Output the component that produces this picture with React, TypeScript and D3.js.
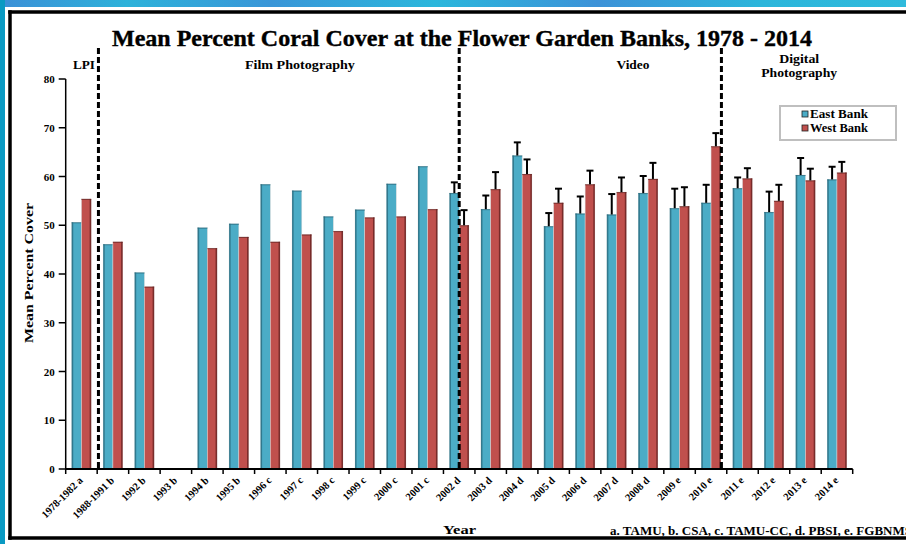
import React from "react";
import * as d3 from "d3";

// Survey periods and the two bank series (mean percent coral cover)
const categories = [
  "1978-1982 a", "1988-1991 b", "1992 b", "1993 b", "1994 b", "1995 b",
  "1996 c", "1997 c", "1998 c", "1999 c", "2000 c", "2001 c", "2002 d",
  "2003 d", "2004 d", "2005 d", "2006 d", "2007 d", "2008 d", "2009 e",
  "2010 e", "2011 e", "2012 e", "2013 e", "2014 e",
];

const eastBank: (number | null)[] = [
  50.6, 46.1, 40.3, null, 49.5, 50.3, 58.4, 57.1, 51.8, 53.2, 58.5, 62.1, 56.6,
  53.3, 64.3, 49.8, 52.4, 52.2, 56.6, 53.5, 54.6, 57.6, 52.7, 60.3, 59.4,
];
const westBank: (number | null)[] = [
  55.4, 46.6, 37.4, null, 45.3, 47.6, 46.6, 48.1, 48.8, 51.6, 51.8, 53.3, 50.0,
  57.4, 60.5, 54.6, 58.4, 56.8, 59.5, 53.9, 66.2, 59.6, 55.0, 59.2, 60.8,
];
// Upper standard-error bars (video and digital years only)
const eastErr: (number | null)[] = [
  null, null, null, null, null, null, null, null, null, null, null, null, 2.2,
  2.8, 2.7, 2.7, 3.5, 4.2, 3.5, 4.0, 3.7, 2.2, 4.2, 3.5, 2.6,
];
const westErr: (number | null)[] = [
  null, null, null, null, null, null, null, null, null, null, null, null, 3.1,
  3.5, 3.0, 2.9, 2.8, 3.0, 3.3, 3.9, 2.7, 2.1, 3.3, 2.4, 2.2,
];

const yTicks = [0, 10, 20, 30, 40, 50, 60, 70, 80];

// Method dividers and section headings, in category units from the axis start
const dividers = [1.04, 12.5, 20.83];
const sections = [
  { lines: ["LPI"], widths: [22], at: 0.58 },
  { lines: ["Film Photography"], widths: [110], at: 7.44 },
  { lines: ["Video"], widths: [33], at: 18.02 },
  { lines: ["Digital", "Photography"], widths: [40, 76], at: 23.3 },
];

const seriesNames = ["East Bank", "West Bank"];
const seriesColors = ["#4bacc6", "#c0504d"];
const seriesEdges = ["#2b6f82", "#6b2523"];

const FONT = "'Liberation Serif', 'Times New Roman', serif";

export default function App() {
  const W = 906;
  const H = 544;
  const x0 = 65.7;
  const x1 = 852.7;
  const yBase = 469;
  const yTop = 79;

  const x = d3.scaleBand<string>().domain(categories).range([x0, x1]).padding(0);
  const band = x.bandwidth();
  const inner = d3
    .scaleBand<string>()
    .domain(seriesNames)
    .range([0, band])
    .paddingInner(0)
    .paddingOuter(0.62);
  const bw = inner.bandwidth();
  const y = d3.scaleLinear().domain([0, 80]).range([yBase, yTop]);
  const unit = d3.scaleLinear().domain([0, categories.length]).range([x0, x1]);

  const series = [eastBank, westBank];
  const errs = [eastErr, westErr];

  return (
    <svg
      width={W}
      height={H}
      style={{ position: "absolute", left: 0, top: 0, display: "block", overflow: "hidden" }}
      fontFamily={FONT}
    >
      <defs>
        <linearGradient id="topband" x1="0" x2="1" y1="0" y2="0">
          <stop offset="0" stopColor="#3c8fd7" />
          <stop offset="0.14" stopColor="#2db2da" />
          <stop offset="0.3" stopColor="#3a96d8" />
          <stop offset="0.48" stopColor="#2bb7dc" />
          <stop offset="0.66" stopColor="#3d92d8" />
          <stop offset="0.84" stopColor="#2cb6db" />
          <stop offset="1" stopColor="#2fbadc" />
        </linearGradient>
      </defs>
      <rect x={0} y={0} width={W} height={H} fill="#ffffff" />
      <rect x={0} y={0} width={W} height={7} fill="url(#topband)" />
      <rect x={0} y={0} width={5} height={H} fill="#0a9ac3" />
      {/* Slide frame: top, left and bottom edges (right edge lies off the page) */}
      <g stroke="#000" strokeWidth={3.5} fill="none">
        <line x1={8.25} x2={W} y1={12} y2={12} />
        <line x1={10} x2={10} y1={10.25} y2={539.75} />
        <line x1={8.25} x2={W} y1={538} y2={538} />
      </g>

      {/* Title */}
      <text
        x={462}
        y={46}
        textAnchor="middle"
        fontSize={24}
        fontWeight="bold"
        stroke="#000"
        strokeWidth={0.4}
        textLength={700}
        lengthAdjust="spacingAndGlyphs"
      >
        Mean Percent Coral Cover at the Flower Garden Banks,  1978 - 2014
      </text>

      {/* Section headings */}
      {sections.map((s) =>
        s.lines.map((line, i) => (
          <text
            key={s.at + line}
            x={unit(s.at)}
            y={s.lines.length > 1 ? 63 + i * 14 : 69}
            textAnchor="middle"
            fontSize={12}
            fontWeight="bold"
            textLength={s.widths[i]}
            lengthAdjust="spacingAndGlyphs"
          >
            {line}
          </text>
        ))
      )}

      {/* Bars */}
      {categories.map((c, i) =>
        series.map((vals, s) => {
          const v = vals[i];
          if (v == null) return null;
          const bx = (x(c) as number) + (inner(seriesNames[s]) as number);
          const top = y(v);
          const edgeX = s === 0 ? bx : bx + bw - 1.5;
          return (
            <g key={c + s}>
              <rect x={bx} y={top} width={bw} height={yBase - top} fill={seriesColors[s]} stroke="#d8d8d8" strokeWidth={0.5} />
              <rect x={edgeX} y={top} width={1.5} height={yBase - top} fill={seriesEdges[s]} opacity={0.85} />
              <line x1={bx} x2={bx + bw} y1={top + 0.5} y2={top + 0.5} stroke={seriesEdges[s]} strokeWidth={1} opacity={0.8} />
            </g>
          );
        })
      )}

      {/* Error bars */}
      {categories.map((c, i) =>
        errs.map((ev, s) => {
          const e = ev[i];
          const v = series[s][i];
          if (e == null || v == null) return null;
          const cx = (x(c) as number) + (inner(seriesNames[s]) as number) + bw / 2;
          return (
            <g key={"e" + c + s} stroke="#000" strokeWidth={2}>
              <line x1={cx} x2={cx} y1={y(v)} y2={y(v + e)} />
              <line x1={cx - 3.5} x2={cx + 3.5} y1={y(v + e)} y2={y(v + e)} />
            </g>
          );
        })
      )}

      {/* Dashed method dividers */}
      {dividers.map((d) => (
        <line
          key={d}
          x1={unit(d)}
          x2={unit(d)}
          y1={48}
          y2={yBase}
          stroke="#000"
          strokeWidth={3}
          strokeDasharray="6 3"
        />
      ))}

      {/* Y axis */}
      <line x1={x0} x2={x0} y1={yTop} y2={yBase} stroke="#000" strokeWidth={1.5} />
      {yTicks.map((t) => (
        <g key={t}>
          <line x1={x0 - 7} x2={x0} y1={y(t)} y2={y(t)} stroke="#000" strokeWidth={1.5} />
          <text x={x0 - 11} y={y(t) + 4} textAnchor="end" fontSize={11} fontWeight="bold">
            {t}
          </text>
        </g>
      ))}
      <text
        transform={`translate(33,273) rotate(-90)`}
        textAnchor="middle"
        fontSize={13}
        fontWeight="bold"
        textLength={140}
        lengthAdjust="spacingAndGlyphs"
      >
        Mean Percent Cover
      </text>

      {/* X axis */}
      <line x1={x0} x2={x1} y1={yBase} y2={yBase} stroke="#000" strokeWidth={2} />
      {d3.range(categories.length + 1).map((k) => (
        <line key={k} x1={unit(k)} x2={unit(k)} y1={yBase} y2={yBase + 5} stroke="#000" strokeWidth={1.5} />
      ))}
      {categories.map((c) => {
        const cx = (x(c) as number) + band / 2 + 2;
        return (
          <text
            key={"l" + c}
            transform={`translate(${cx},${481}) rotate(-45)`}
            textAnchor="end"
            fontSize={10.5}
            fontWeight="bold"
          >
            {c}
          </text>
        );
      })}
      <text x={443} y={534} fontSize={13} fontWeight="bold" textLength={33} lengthAdjust="spacingAndGlyphs">
        Year
      </text>
      <text x={610} y={535} fontSize={12} fontWeight="bold" textLength={302} lengthAdjust="spacingAndGlyphs">
        a. TAMU, b. CSA, c. TAMU-CC, d. PBSI, e. FGBNMS
      </text>

      {/* Legend */}
      <rect x={780} y={106} width={116} height={34} fill="#fff" stroke="#bfbfbf" strokeWidth={2} />
      {seriesNames.map((n, i) => (
        <g key={n}>
          <rect x={802} y={111 + i * 14} width={6} height={6} fill={seriesColors[i]} stroke="#222" strokeWidth={0.8} />
          <text x={810} y={118 + i * 14} fontSize={12} fontWeight="bold" textLength={58} lengthAdjust="spacingAndGlyphs">
            {n}
          </text>
        </g>
      ))}
    </svg>
  );
}
